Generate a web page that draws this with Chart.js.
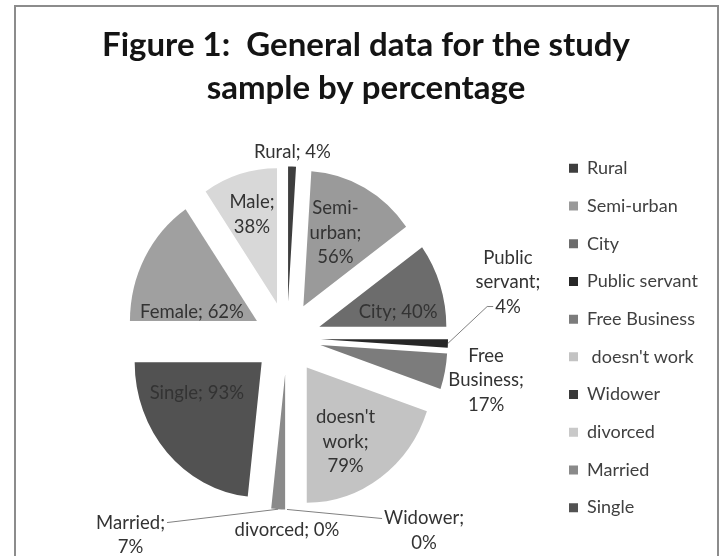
<!DOCTYPE html>
<html>
<head>
<meta charset="utf-8">
<script src="https://cdn.jsdelivr.net/npm/chart.js@4/dist/chart.umd.min.js"></script>
<style>
  html, body { margin: 0; padding: 0; background: #ffffff; }
  #wrap { position: relative; width: 720px; height: 556px; overflow: hidden; background: #ffffff; }
  #frame { position: absolute; left: 14px; top: 5px; width: 705px; height: 620px;
           border: 2px solid #8c8c8c; box-sizing: border-box; }
  canvas { position: absolute; left: 0; top: 0; }
</style>
</head>
<body>
<div id="wrap">
  <div id="frame"></div>
  <canvas id="chart" width="720" height="556"></canvas>
</div>
<script>
// Study sample, four groups of 100% each (residence, work, marital status, gender)
const categories = ['Rural', 'Semi-urban', 'City', 'Public servant', 'Free Business',
                    ' doesn\'t work', 'Widower', 'divorced', 'Married', 'Single', 'Female', 'Male'];
const percentages = [4, 56, 40, 4, 17, 79, 0, 0, 7, 93, 62, 38];
const titleLines = ['Figure 1:  General data for the study', 'sample by percentage'];
const legendEntries = 10;   // the legend lists the first ten categories

// Styling
const sliceColors = ['#3e3e3e', '#9a9a9a', '#6c6c6c', '#272727', '#7c7c7c', '#c3c3c3',
                     '#3a3a3a', '#c9c9c9', '#8a8a8a', '#525252', '#a0a0a0', '#d8d8d8'];
const PIE_RADIUS = 127;
const EXPLODE = 34;        // every slice pulled out from the centre
const STRETCH_Y = 1.065;   // pie is slightly taller than wide
const FONT = 'Lato';
const TEXT_COLOR = '#333333';

// Data label placement: angle (deg, clockwise from 12 o'clock) and distance from slice tip
const labelAngles    = [1.8, 25, 80, 74, 101.25, 151, 137, 180, 225.7, 246, 277.5, 343.3];
const labelDistances = [141, 76, 80, 194.5, 169, 80, 201, 146, 216, 71, 65.5, 87];
// 0 = one line, 1 = value on its own line, 2 = every word on its own line
const labelWrap      = [0, 2, 0, 2, 2, 2, 1, 0, 1, 0, 0, 1];
// leader lines: which label line they meet, and on which side
const leaderLines = { 3: ['last', 'left'], 6: ['first', 'left'], 8: ['first', 'right'] };
const LABEL_SIZE = 18.5;
const LABEL_LINE = 24.5;

function labelLines(i) {
  const name = categories[i].trim();
  const val = percentages[i] + '%';
  if (labelWrap[i] === 0) return [name + '; ' + val];
  if (labelWrap[i] === 1) return [name + ';', val];
  const parts = name.split(/(?<=-)|\s+/);
  parts[parts.length - 1] += ';';
  return parts.concat([val]);
}

const pieCentre = chart => ({
  x: (chart.chartArea.left + chart.chartArea.right) / 2,
  y: (chart.chartArea.top + chart.chartArea.bottom) / 2
});

const explodedPie = {
  id: 'explodedPie',
  beforeLayout(chart) {
    const legend = chart.legend;
    if (legend && !legend._fixedFit) {
      const fit = legend.fit.bind(legend);
      legend.fit = function () { fit(); this.width = 158; };
      legend._fixedFit = true;
    }
  },
  afterDatasetUpdate(chart, args) {
    args.meta.data.forEach(arc => {
      const mid = (arc.startAngle + arc.endAngle) / 2;
      arc.x += Math.cos(mid) * EXPLODE;
      arc.y += Math.sin(mid) * EXPLODE;
    });
  },
  beforeDatasetsDraw(chart) {
    const ctx = chart.ctx, c = pieCentre(chart);
    ctx.save();
    ctx.translate(0, c.y);
    ctx.scale(1, STRETCH_Y);
    ctx.translate(0, -c.y);
  },
  afterDatasetsDraw(chart) {
    const ctx = chart.ctx, c = pieCentre(chart);
    ctx.restore();
    const toScreen = (x, y) => ({ x, y: c.y + (y - c.y) * STRETCH_Y });
    const arcs = chart.getDatasetMeta(0).data;

    ctx.save();
    ctx.font = `${LABEL_SIZE}px ${FONT}`;
    ctx.fillStyle = TEXT_COLOR;
    ctx.textAlign = 'center';
    ctx.textBaseline = 'middle';

    arcs.forEach((arc, i) => {
      const th = labelAngles[i] * Math.PI / 180;
      const p = toScreen(arc.x + Math.sin(th) * labelDistances[i],
                         arc.y - Math.cos(th) * labelDistances[i]);
      const lines = labelLines(i);
      const y0 = p.y - (lines.length - 1) * LABEL_LINE / 2;
      lines.forEach((t, k) => ctx.fillText(t, p.x, y0 + k * LABEL_LINE));

      const lead = leaderLines[i];
      if (lead) {
        const mid = (arc.startAngle + arc.endAngle) / 2;
        const s = toScreen(arc.x + Math.cos(mid) * arc.outerRadius,
                           arc.y + Math.sin(mid) * arc.outerRadius);
        const k = lead[0] === 'last' ? lines.length - 1 : 0;
        const w = ctx.measureText(lines[k]).width;
        const ly = y0 + k * LABEL_LINE;
        ctx.save();
        ctx.strokeStyle = '#808080';
        ctx.lineWidth = 1;
        ctx.beginPath();
        ctx.moveTo(s.x, s.y);
        if (lead[1] === 'left') {
          const ex = p.x - w / 2 - 2;
          if (i === 3) { ctx.lineTo(ex - 6, ly); }
          ctx.lineTo(ex, ly);
        } else {
          ctx.lineTo(p.x + w / 2 + 2, ly);
        }
        ctx.stroke();
        ctx.restore();
      }
    });
    ctx.restore();
  }
};

new Chart(document.getElementById('chart'), {
  type: 'pie',
  data: {
    labels: categories,
    datasets: [{
      data: percentages,
      backgroundColor: sliceColors,
      borderWidth: 0,
      clip: false
    }]
  },
  options: {
    responsive: false,
    animation: false,
    events: [],
    radius: PIE_RADIUS,
    layout: { padding: { left: 24.7, right: 12.7, top: 13.5, bottom: 0 } },
    plugins: {
      title: {
        display: true,
        text: titleLines,
        color: '#141414',
        font: { family: FONT, weight: 'bold', size: 33, lineHeight: 43 / 33 },
        padding: { top: 10, bottom: 10.5 }
      },
      legend: {
        position: 'right',
        fullSize: false,
        align: 'center',
        labels: {
          boxWidth: 9,
          boxHeight: 9,
          padding: 19.7,
          color: '#404040',
          font: { family: FONT, size: 18 },
          filter: item => item.index < legendEntries
        }
      },
      tooltip: { enabled: false }
    }
  },
  plugins: [explodedPie]
});
</script>
</body>
</html>
